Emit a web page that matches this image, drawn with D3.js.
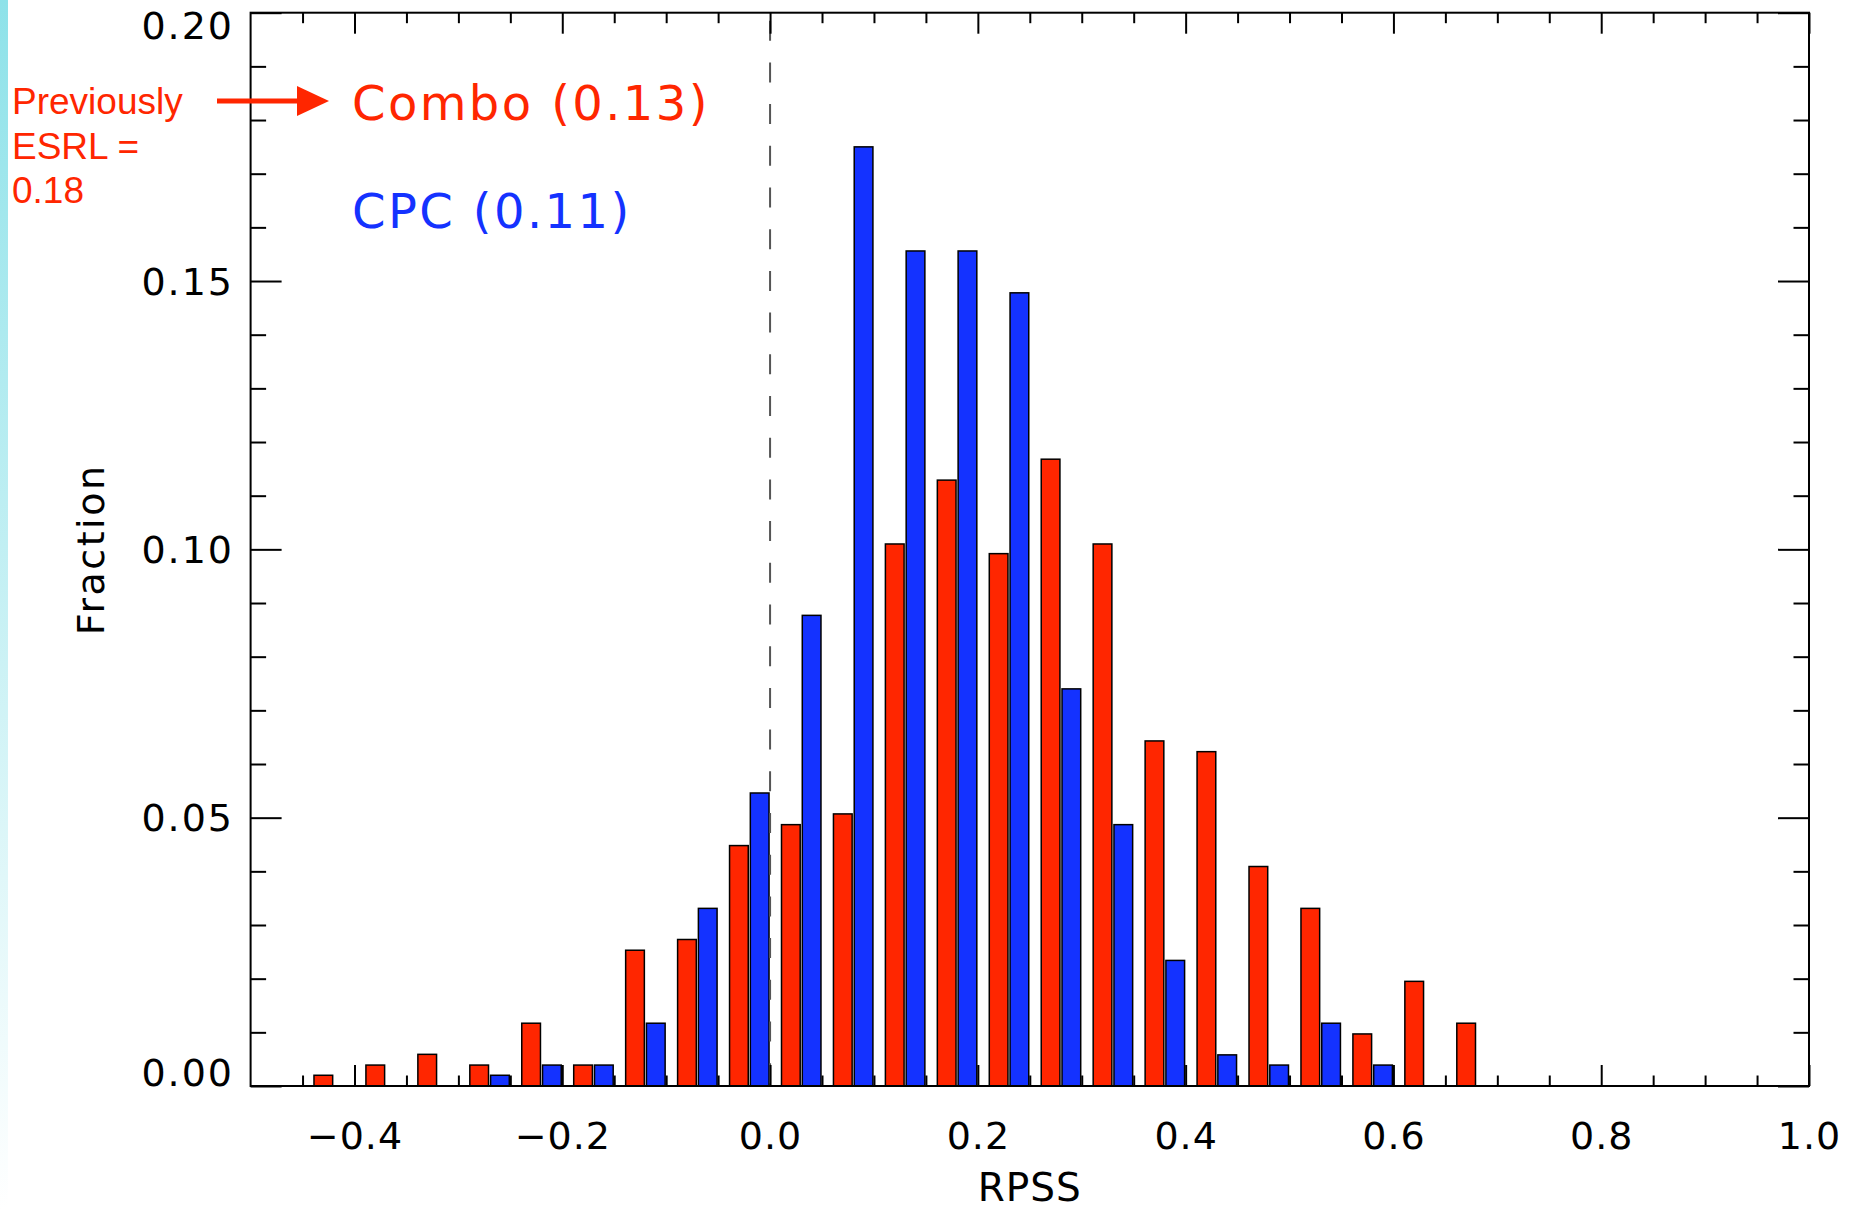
<!DOCTYPE html>
<html>
<head>
<meta charset="utf-8">
<script src="https://cdn.jsdelivr.net/npm/d3@7"></script>
<style>
  body { margin: 0; background: #fff; }
  svg { display: block; }
</style>
</head>
<body>
<svg id="chart" width="1862" height="1209"></svg>
<script>
// histogram bins (left edge of each 0.05-wide RPSS bin)
const binStarts = [-0.45, -0.40, -0.35, -0.30, -0.25, -0.20, -0.15, -0.10, -0.05,
  0.00, 0.05, 0.10, 0.15, 0.20, 0.25, 0.30, 0.35, 0.40, 0.45, 0.50, 0.55, 0.60, 0.65];
const combo = [0.0020, 0.0039, 0.0059, 0.0039, 0.0117, 0.0039, 0.0253, 0.0273, 0.0448,
  0.0487, 0.0507, 0.1010, 0.1129, 0.0992, 0.1168, 0.1010, 0.0643, 0.0623, 0.0409,
  0.0331, 0.0097, 0.0195, 0.0117];
const cpc = [0, 0, 0, 0.0020, 0.0039, 0.0039, 0.0117, 0.0331, 0.0546,
  0.0877, 0.1750, 0.1556, 0.1556, 0.1478, 0.0740, 0.0487, 0.0234, 0.0058, 0.0039,
  0.0117, 0.0039, 0, 0];
const xTicks = [-0.4, -0.2, 0.0, 0.2, 0.4, 0.6, 0.8, 1.0];
const yTicks = [0.00, 0.05, 0.10, 0.15, 0.20];
const legend = [
  { text: 'Combo (0.13)', color: '#ff2600' },
  { text: 'CPC (0.11)', color: '#1432ff' }
];
const note = ['Previously', 'ESRL =', '0.18'];

const red = '#ff2600';
const blue = '#1432ff';
const plotLeft = 250.6, plotRight = 1809, plotTop = 12.7, plotBottom = 1086;
const tickFont = '"DejaVu Sans", sans-serif';

const svg = d3.select('#chart');

// faint cyan strip on the left edge
const grad = svg.append('defs').append('linearGradient')
  .attr('id', 'strip').attr('x1', 0).attr('y1', 0).attr('x2', 0).attr('y2', 1);
grad.append('stop').attr('offset', '0%').attr('stop-color', '#8ee2e9');
grad.append('stop').attr('offset', '100%').attr('stop-color', '#ffffff');
svg.append('rect').attr('x', 0).attr('y', 0).attr('width', 8).attr('height', 1209)
  .attr('fill', 'url(#strip)');

const x = d3.scaleLinear().domain([-0.5, 1.0]).range([plotLeft, plotRight]);
const y = d3.scaleLinear().domain([0, 0.2]).range([plotBottom, plotTop]);

// bars: red in the left part of each bin, blue in the right part
const bars = svg.append('g');
bars.selectAll('.combo')
  .data(binStarts.map((b, i) => ({ b, v: combo[i] })).filter(d => d.v > 0))
  .join('rect')
  .attr('x', d => x(d.b + 0.011))
  .attr('width', d => x(d.b + 0.029) - x(d.b + 0.011))
  .attr('y', d => y(d.v))
  .attr('height', d => y(0) - y(d.v))
  .attr('fill', red).attr('stroke', '#000').attr('stroke-width', 1.5);

bars.selectAll('.cpc')
  .data(binStarts.map((b, i) => ({ b, v: cpc[i] })).filter(d => d.v > 0))
  .join('rect')
  .attr('x', d => x(d.b + 0.031))
  .attr('width', d => x(d.b + 0.049) - x(d.b + 0.031))
  .attr('y', d => y(d.v))
  .attr('height', d => y(0) - y(d.v))
  .attr('fill', blue).attr('stroke', '#000').attr('stroke-width', 1.5);

// dashed zero line
svg.append('line')
  .attr('x1', x(0)).attr('x2', x(0))
  .attr('y1', plotTop + 8).attr('y2', plotBottom)
  .attr('stroke', '#555').attr('stroke-width', 2)
  .attr('stroke-dasharray', '20,21.7');

// axes
const xMinor = d3.range(-0.45, 1.0, 0.05).filter(v => Math.abs(Math.round(v * 5) - v * 5) > 1e-6);
const yMinor = d3.range(0.01, 0.2, 0.01).filter(v => Math.abs(Math.round(v * 20) - v * 20) > 1e-6);

function styleAxis(g) {
  g.select('.domain').remove();
  g.selectAll('line').attr('stroke', '#000').attr('stroke-width', 2);
}

svg.append('g').attr('transform', `translate(0,${plotBottom})`)
  .call(d3.axisBottom(x).tickValues(xTicks).tickSize(-21).tickSizeOuter(0).tickPadding(36)
    .tickFormat(d => d3.format('.1f')(d).replace('-', '\u2212')))
  .call(styleAxis)
  .call(g => g.selectAll('text').attr('font-family', tickFont).attr('font-size', 38)
    .attr('fill', '#000').attr('letter-spacing', 1));
svg.append('g').attr('transform', `translate(0,${plotBottom})`)
  .call(d3.axisBottom(x).tickValues(xMinor).tickSize(-10.5).tickSizeOuter(0).tickFormat(''))
  .call(styleAxis);
svg.append('g').attr('transform', `translate(0,${plotTop})`)
  .call(d3.axisTop(x).tickValues(xTicks).tickSize(-21).tickSizeOuter(0).tickFormat(''))
  .call(styleAxis);
svg.append('g').attr('transform', `translate(0,${plotTop})`)
  .call(d3.axisTop(x).tickValues(xMinor).tickSize(-10.5).tickSizeOuter(0).tickFormat(''))
  .call(styleAxis);

svg.append('g').attr('transform', `translate(${plotLeft},0)`)
  .call(d3.axisLeft(y).tickValues(yTicks).tickSize(-31).tickSizeOuter(0).tickPadding(16.6)
    .tickFormat(d3.format('.2f')))
  .call(styleAxis)
  .call(g => g.selectAll('text').attr('font-family', tickFont).attr('font-size', 38)
    .attr('fill', '#000').attr('letter-spacing', 2)
    .attr('dy', d => d === 0 ? '-0.02em' : (d === 0.2 ? '0.68em' : '0.35em')));
svg.append('g').attr('transform', `translate(${plotLeft},0)`)
  .call(d3.axisLeft(y).tickValues(yMinor).tickSize(-15.5).tickSizeOuter(0).tickFormat(''))
  .call(styleAxis);
svg.append('g').attr('transform', `translate(${plotRight},0)`)
  .call(d3.axisRight(y).tickValues(yTicks).tickSize(-31).tickSizeOuter(0).tickFormat(''))
  .call(styleAxis);
svg.append('g').attr('transform', `translate(${plotRight},0)`)
  .call(d3.axisRight(y).tickValues(yMinor).tickSize(-15.5).tickSizeOuter(0).tickFormat(''))
  .call(styleAxis);

// frame
svg.append('rect')
  .attr('x', plotLeft).attr('y', plotTop)
  .attr('width', plotRight - plotLeft).attr('height', plotBottom - plotTop)
  .attr('fill', 'none').attr('stroke', '#000').attr('stroke-width', 2);

// axis titles
svg.append('text')
  .attr('x', (plotLeft + plotRight) / 2).attr('y', 1200.5)
  .attr('text-anchor', 'middle')
  .attr('font-family', tickFont).attr('font-size', 39).attr('letter-spacing', 1)
  .text('RPSS');
svg.append('text')
  .attr('transform', `translate(104,${(plotTop + plotBottom) / 2}) rotate(-90)`)
  .attr('text-anchor', 'middle')
  .attr('font-family', tickFont).attr('font-size', 38).attr('letter-spacing', 2.5)
  .text('Fraction');

// legend
svg.selectAll('.legend')
  .data(legend)
  .join('text')
  .attr('x', 352)
  .attr('y', (d, i) => 120 + i * 108)
  .attr('font-family', tickFont).attr('font-size', 48).attr('letter-spacing', 2.4)
  .attr('fill', d => d.color)
  .text(d => d.text);

// side note and arrow
svg.selectAll('.note')
  .data(note)
  .join('text')
  .attr('x', 12)
  .attr('y', (d, i) => 114 + i * 44.5)
  .attr('font-family', '"Liberation Sans", Arial, sans-serif').attr('font-size', 37)
  .attr('fill', red)
  .text(d => d);

svg.append('line')
  .attr('x1', 217).attr('x2', 300).attr('y1', 101).attr('y2', 101)
  .attr('stroke', red).attr('stroke-width', 5);
svg.append('path')
  .attr('d', d3.line()([[297, 86], [329, 101], [297, 116]]))
  .attr('fill', red);
</script>
</body>
</html>
